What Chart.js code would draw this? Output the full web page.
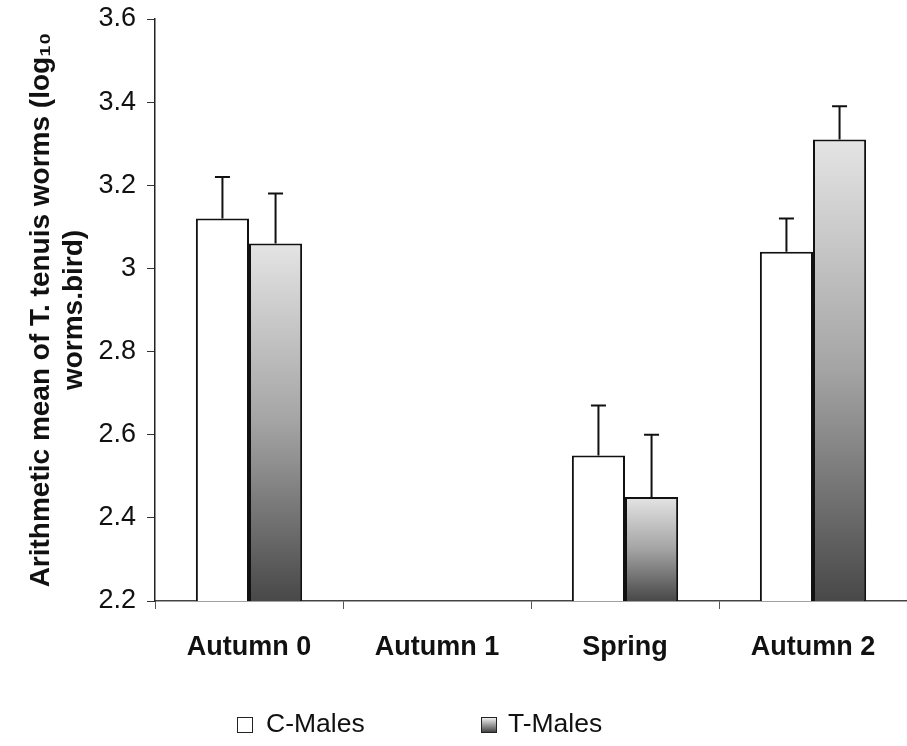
<!DOCTYPE html>
<html>
<head>
<meta charset="utf-8">
<script src="https://cdn.jsdelivr.net/npm/chart.js@4.4.1/dist/chart.umd.min.js"></script>
<style>
  html, body { margin: 0; padding: 0; background: #fff; overflow: hidden; }
  #wrap { position: relative; width: 907px; height: 746px; }
  #chart { display: block; }
  .leyenda { position: absolute; top: 708px; font-family: Arial, "Liberation Sans", sans-serif; font-size: 26.5px; color: #111; line-height: 30px; white-space: nowrap; }
  .caja { position: absolute; top: 9px; width: 14px; height: 14px; border: 1.5px solid #222; }
</style>
</head>
<body>
<div id="wrap">
  <canvas id="chart" width="907" height="746"></canvas>
  <div class="leyenda" style="left:237px;"><span class="caja" style="left:0; background:#fff;"></span><span style="margin-left:29px;">C-Males</span></div>
  <div class="leyenda" style="left:481px;"><span class="caja" style="left:0; background:linear-gradient(#eee, #999 50%, #444);"></span><span style="margin-left:27px;">T-Males</span></div>
</div>
<script>
const categorias = ['Autumn 0', 'Autumn 1', 'Spring', 'Autumn 2'];
const cMachos = [3.12, null, 2.55, 3.04];
const tMachos = [3.06, null, 2.45, 3.31];
// error estándar (solo se dibuja hacia arriba)
const cErrores = [0.10, null, 0.12, 0.08];
const tErrores = [0.12, null, 0.15, 0.08];
const yTickLabels = ['2.2', '2.4', '2.6', '2.8', '3', '3.2', '3.4', '3.6'];

const fuente = 'Arial, "Liberation Sans", sans-serif';

// Relleno degradado para cada barra de T-Males (claro arriba, oscuro abajo)
function degradadoBarra(context) {
  const chart = context.chart;
  const area = chart.chartArea;
  if (!area || context.type !== 'data' || context.raw == null) return '#999';
  const y = chart.scales.y;
  const top = y.getPixelForValue(context.raw);
  const bottom = y.getPixelForValue(y.min);
  const g = chart.ctx.createLinearGradient(0, top, 0, bottom);
  g.addColorStop(0, '#e4e4e4');
  g.addColorStop(0.5, '#a4a4a4');
  g.addColorStop(1, '#484848');
  return g;
}

// Barras de error hacia arriba
const barrasError = {
  id: 'barrasError',
  afterDatasetsDraw(chart) {
    const ctx = chart.ctx;
    const y = chart.scales.y;
    ctx.save();
    ctx.strokeStyle = '#111';
    ctx.lineWidth = 2;
    chart.data.datasets.forEach((ds, i) => {
      const meta = chart.getDatasetMeta(i);
      meta.data.forEach((bar, j) => {
        const v = ds.data[j];
        const e = ds.errores[j];
        if (v == null || e == null) return;
        const yTop = y.getPixelForValue(v + e);
        ctx.beginPath();
        ctx.moveTo(bar.x, bar.y);
        ctx.lineTo(bar.x, yTop);
        ctx.moveTo(bar.x - 7.5, yTop);
        ctx.lineTo(bar.x + 7.5, yTop);
        ctx.stroke();
      });
    });
    ctx.restore();
  }
};

new Chart(document.getElementById('chart'), {
  type: 'bar',
  data: {
    labels: categorias,
    datasets: [
      {
        label: 'C-Males',
        data: cMachos,
        errores: cErrores,
        backgroundColor: '#ffffff',
        borderColor: '#111',
        borderWidth: 2,
        categoryPercentage: 0.565,
        barPercentage: 1
      },
      {
        label: 'T-Males',
        data: tMachos,
        errores: tErrores,
        backgroundColor: degradadoBarra,
        borderColor: '#111',
        borderWidth: 2,
        categoryPercentage: 0.565,
        barPercentage: 1
      }
    ]
  },
  options: {
    responsive: false,
    animation: false,
    layout: { padding: { top: 19, right: 0, bottom: 0, left: 0 } },
    plugins: {
      legend: { display: false },
      tooltip: { enabled: false }
    },
    scales: {
      x: {
        grid: { drawOnChartArea: false, tickLength: 8, color: '#555', lineWidth: 1 },
        border: { display: true, color: '#444', width: 1.5 },
        ticks: { color: '#111', padding: 22, font: { family: fuente, size: 27, weight: 'bold' } },
        afterFit(scale) { scale.height = 145; }
      },
      y: {
        min: 2.2,
        max: 3.6,
        ticks: {
          stepSize: 0.2,
          color: '#111',
          padding: 11,
          font: { family: fuente, size: 27 },
          callback: (v, i) => yTickLabels[i]
        },
        grid: { drawOnChartArea: false, tickLength: 8, color: '#333', lineWidth: 1 },
        border: { display: true, color: '#222', width: 1.5 },
        title: {
          display: true,
          text: ['Arithmetic mean of T. tenuis worms (log\u2081\u2080', 'worms.bird)'],
          color: '#111',
          font: { family: fuente, size: 28, weight: 'bold', lineHeight: 1.2 },
          padding: { top: 24, bottom: 0 }
        },
        afterFit(scale) {
          scale.width = 155;
          scale.paddingTop = 0;
          scale.paddingBottom = 0;
        }
      }
    }
  },
  plugins: [barrasError]
});
</script>
</body>
</html>
